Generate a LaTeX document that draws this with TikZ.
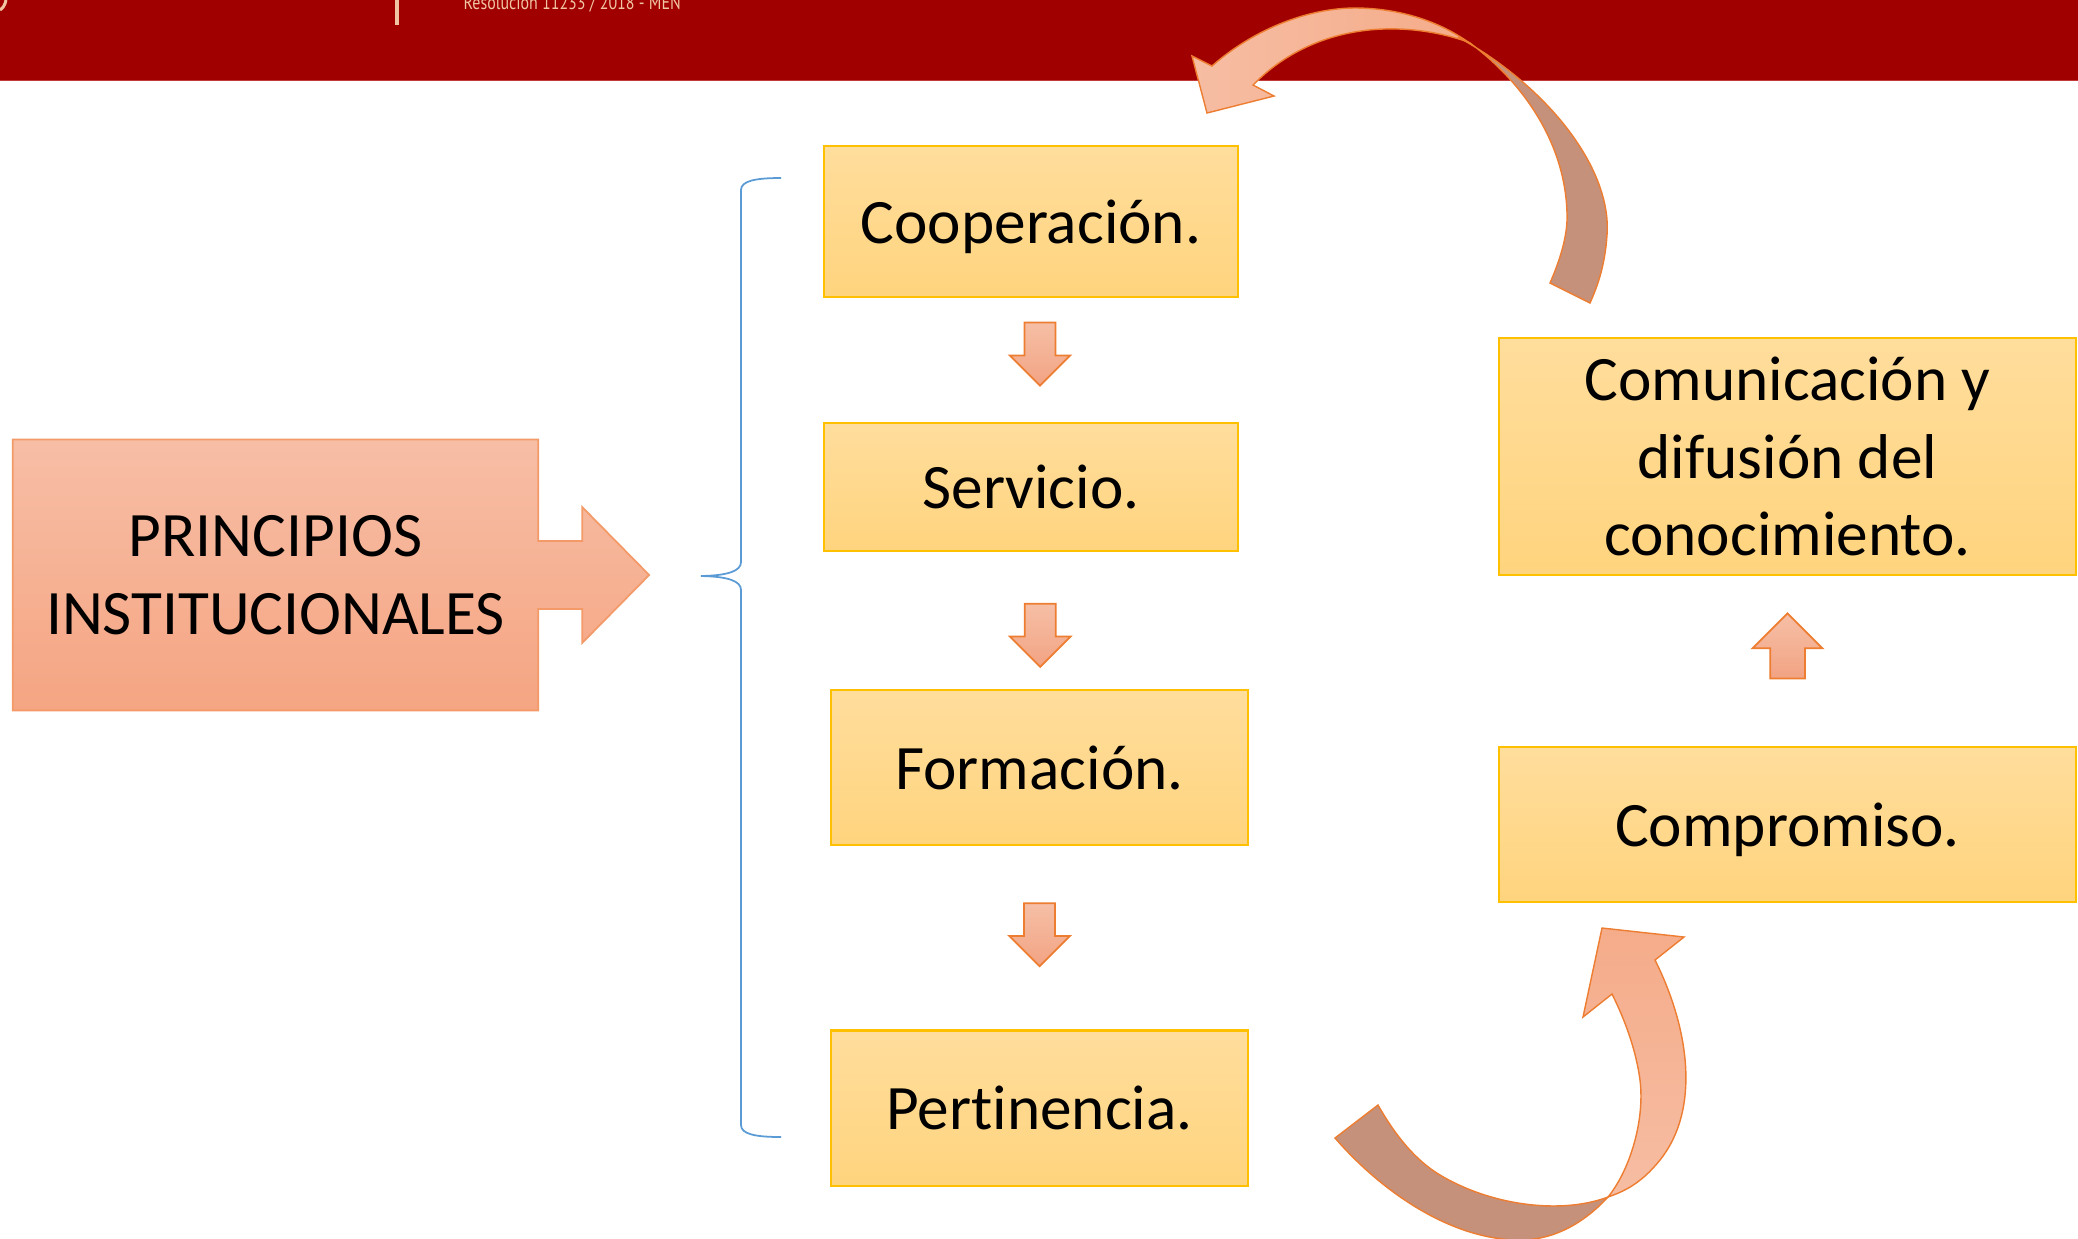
\documentclass[tikz,border=0pt]{standalone}
\usepackage{fontspec}
\setmainfont{Carlito}[Ligatures=NoCommon,Contextuals=NoAlternate]
\newfontfamily\resfont{PT Sans}
\usepackage{graphicx}
\usetikzlibrary{calc,positioning,shapes.arrows,backgrounds}
\definecolor{banner}{HTML}{A00000}
\definecolor{bannerline}{HTML}{C23A3A}
\definecolor{peach}{HTML}{F0C5A3}
\definecolor{cajaborde}{HTML}{FFC000}
\definecolor{cajaarriba}{HTML}{FFDD9C}
\definecolor{cajaabajo}{HTML}{FFD47E}
\definecolor{prinarriba}{HTML}{F7BEA6}
\definecolor{prinabajo}{HTML}{F5A582}
\definecolor{prinborde}{HTML}{F39A68}
\definecolor{flechaborde}{HTML}{ED7D31}
\definecolor{flechaarriba}{HTML}{F6BFA6}
\definecolor{flechaabajo}{HTML}{F2A383}
\definecolor{curvaclara}{HTML}{F5AC8A}
\definecolor{curvapalida}{HTML}{F6BDA3}
\definecolor{curvaoscura}{HTML}{C6917B}
\definecolor{llaveazul}{HTML}{5B9BD5}
\tikzset{
node distance=1.3cm, % gap between the boxes of the column
caja/.style={draw=cajaborde, line width=0.6pt, top color=cajaarriba, bottom color=cajaabajo,
  inner sep=0pt, outer sep=0pt, align=center, text depth=0pt, font=\fontsize{18}{22}\selectfont},
principio/.style={inner sep=0pt, outer sep=0pt, align=center, font=\fontsize{18}{22}\selectfont,
  minimum width=5.25cm, minimum height=2.71cm},
flecha/.style={single arrow, shape border rotate=270, draw=flechaborde, line width=0.5pt,
  top color=flechaarriba, bottom color=flechaabajo, inner sep=0.147cm,
  single arrow head extend=0.146cm, single arrow tip angle=90, minimum height=0.63cm},
flechaup/.style={shape border rotate=90, inner sep=0.165cm,
  single arrow head extend=0.175cm, minimum height=0.65cm},
curva/.style={draw=flechaborde, line width=0.4pt},
llave/.style={draw=llaveazul, line width=0.5pt},
}
\tikzset{
    between/.style args={#1 and #2}{
         at = ($(#1)!0.5!(#2)$)
    }
}
\begin{document}
\begin{tikzpicture}[x=0.01cm,y=-0.01cm]
\useasboundingbox (0,0) rectangle (2078,1238);
% franja superior
\fill[banner] (0,0) rectangle (2078,81);
\draw[bannerline, line width=0.4pt] (0,80.5) -- (2078,80.5);
\draw[peach, line width=0.04cm] (397,0) -- (397,25);
\draw[peach, line width=0.03cm] (0,10) .. controls (3,8) and (5,5) .. (6,0);
\node[anchor=base west, text=peach, inner sep=0pt, font=\resfont\fontsize{5.6}{6}\selectfont] (res) at (463,9)
  {\resizebox{2.17cm}{\height}{Resolución 11233 / 2018 - MEN}};

\node[principio] (principios) at (275.5,575) {PRINCIPIOS\\INSTITUCIONALES};
\begin{scope}[on background layer]
\path[draw=prinborde, line width=0.5pt, top color=prinarriba, bottom color=prinabajo]
  (principios.north west) -- (principios.north east) -- ($(principios.east)+(0,-34)$)
  -- ($(principios.east)+(44,-34)$) -- ($(principios.east)+(44,-68)$) -- ($(principios.east)+(111,0)$)
  -- ($(principios.east)+(44,68)$) -- ($(principios.east)+(44,34)$) -- ($(principios.east)+(0,34)$)
  -- (principios.south east) -- (principios.south west) -- cycle;
\end{scope}

\draw[llave] (781,178) .. controls (755,178) and (741,181) .. (741,190) -- (741,562)
  .. controls (741,571) and (728,575.5) .. (701,576) .. controls (728,576.5) and (741,581) .. (741,590)
  -- (741,1125) .. controls (741,1134) and (755,1137) .. (781,1137);

\node[caja, minimum width=4.14cm, minimum height=1.51cm] (coop) at (1031,221.5) {Cooperación.};
\node[caja, minimum width=4.14cm, minimum height=1.28cm] (serv) [below=1.26cm of coop] {Servicio.};
\node[caja, minimum width=4.17cm, minimum height=1.55cm] (form) [below=1.39cm of serv, xshift=0.085cm] {Formación.};
\node[caja, minimum width=4.17cm, minimum height=1.55cm] (pert) [below=1.85cm of form] {Pertinencia.};
\node[caja, minimum width=5.77cm, minimum height=2.37cm] (comu) at (1787.5,456.5) {Comunicación y\\difusión del\\conocimiento.};
\node[caja, minimum width=5.77cm, minimum height=1.55cm] (comp) [below=1.72cm of comu] {Compromiso.};

\node[flecha, between=coop and serv, xshift=0.09cm, yshift=0.08cm] (f_1) {};
\node[flecha, between=serv and form, xshift=0.05cm] (f_2) {};
\node[flecha, between=form and pert, yshift=0.11cm] (f_3) {};
\node[flecha, flechaup, between=comp and comu, yshift=-0.14cm] (f_4) {};

% flecha curva superior
\path[curva, left color=curvapalida, right color=curvaclara]
  (1212,66) .. controls (1255,28) and (1310,8) .. (1355,8) .. controls (1400,8) and (1440,22) .. (1468,42)
  .. controls (1440,32) and (1410,28) .. (1383,29) .. controls (1330,31) and (1285,52) .. (1253,85)
  -- (1274,96) -- (1207,113) -- (1192,56) -- cycle;
\path[curva, fill=curvaoscura]
  (1458,37) .. controls (1550,88) and (1612,170) .. (1607,235) .. controls (1605,265) and (1598,285) .. (1590,303)
  -- (1550,283) .. controls (1560,260) and (1568,235) .. (1567,213) .. controls (1565,140) and (1520,80) .. (1470,43) -- cycle;

% flecha curva inferior
\path[curva, fill=curvaoscura]
  (1608,1197) .. controls (1560,1215) and (1490,1205) .. (1440,1175) .. controls (1415,1160) and (1395,1135) .. (1378,1105)
  -- (1335,1138) .. controls (1380,1190) and (1450,1240) .. (1520,1240) .. controls (1555,1240) and (1585,1222) .. (1608,1197) -- cycle;
\path[curva, top color=curvaclara, bottom color=curvapalida]
  (1655,960) .. controls (1690,1030) and (1700,1110) .. (1660,1160) .. controls (1640,1185) and (1622,1192) .. (1608,1197)
  .. controls (1630,1170) and (1645,1120) .. (1640,1080) .. controls (1636,1050) and (1625,1020) .. (1612,994)
  -- (1583,1017) -- (1602,928) -- (1684,937) -- cycle;
\end{tikzpicture}
\end{document}
